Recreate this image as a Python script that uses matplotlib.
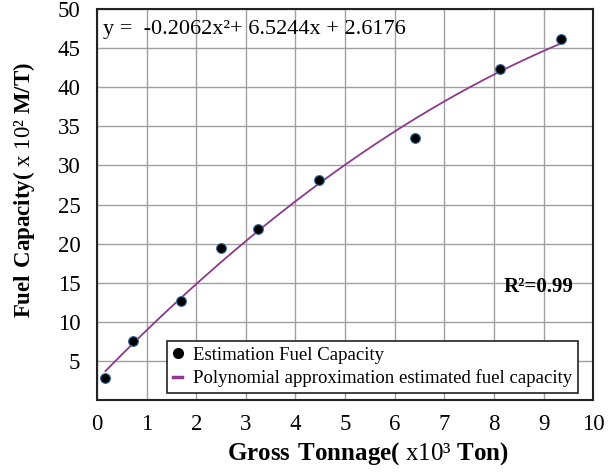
import matplotlib
matplotlib.use("Agg")
import matplotlib.pyplot as plt
from matplotlib.lines import Line2D
import numpy as np

plt.rcParams['font.family'] = ['Liberation Serif', 'DejaVu Serif']
plt.rcParams['mathtext.fontset'] = 'custom'
plt.rcParams['mathtext.rm'] = 'Liberation Serif'
plt.rcParams['mathtext.bf'] = 'Liberation Serif:bold'

# Data
tonnage = [0.17, 0.72, 1.70, 2.50, 3.25, 4.47, 6.40, 8.12, 9.35]
fuel = [2.8, 7.5, 12.7, 19.5, 21.9, 28.1, 33.5, 42.3, 46.2]
coef = [-0.2062, 6.5244, 2.6176]
x_ticks = list(range(0, 11))
y_ticks = [5, 10, 15, 20, 25, 30, 35, 40, 45, 50]

PURPLE = '#8b3a8b'

fig = plt.figure(figsize=(6.14, 4.73), dpi=100)
ax = fig.add_axes([0.158, 0.154, 0.808, 0.827])

xs = np.linspace(min(tonnage), max(tonnage), 200)
ax.plot(xs, np.polyval(coef, xs), color=PURPLE, lw=1.3, zorder=3)
ax.scatter(tonnage, fuel, s=50, color='black', edgecolor='#3a6ea5', lw=0.8,
           zorder=4)

ax.set_xlim(0, 10)
ax.set_ylim(0, 50)
ax.set_xticks(x_ticks)
ax.set_yticks(y_ticks)
ax.tick_params(length=0, labelsize=16.5)
ax.tick_params(axis='y', pad=12)
ax.tick_params(axis='x', pad=10)
ax.grid(color='#a0a0a0', lw=1)
ax.set_axisbelow(True)
for s in ax.spines.values():
    s.set_linewidth(1.5)
    s.set_color('#222222')

# axis titles (bold with normal-weight unit part)
ax.text(0.547, -0.136, r'$\mathbf{Gross\ Tonnage(}$ x10³ $\mathbf{Ton)}$',
        transform=ax.transAxes, fontsize=18, ha='center', va='center')
ax.text(-0.147, 0.537, r'$\mathbf{Fuel\ Capacity(}$ x 10² $\mathbf{M/T)}$',
        transform=ax.transAxes, fontsize=16.5, ha='center', va='center',
        rotation=90)

ax.text(0.012, 47.4, 'y =  -0.2062x²+ 6.5244x + 2.6176', fontsize=16,
        va='center', ha='left', transform=ax.get_yaxis_transform())
ax.text(8.19, 14.45, 'R²=0.99', fontsize=15, fontweight='bold',
        ha='left', va='center')

handles = [
    Line2D([], [], ls='none', marker='o', color='black', markersize=7),
    Line2D([], [], color=PURPLE, lw=2.5),
]
labels = ['Estimation Fuel Capacity',
          'Polynomial approximation estimated fuel capacity']
leg = ax.legend(handles, labels, loc='lower right', fontsize=13.5,
                frameon=True, fancybox=False, framealpha=1,
                edgecolor='#222222', handlelength=0.5, handletextpad=0.6,
                borderpad=0.3, labelspacing=0.3, borderaxespad=0,
                bbox_to_anchor=(0.970, 0.018))
leg.get_frame().set_linewidth(1.2)

fig.savefig('out.png', dpi=100)
